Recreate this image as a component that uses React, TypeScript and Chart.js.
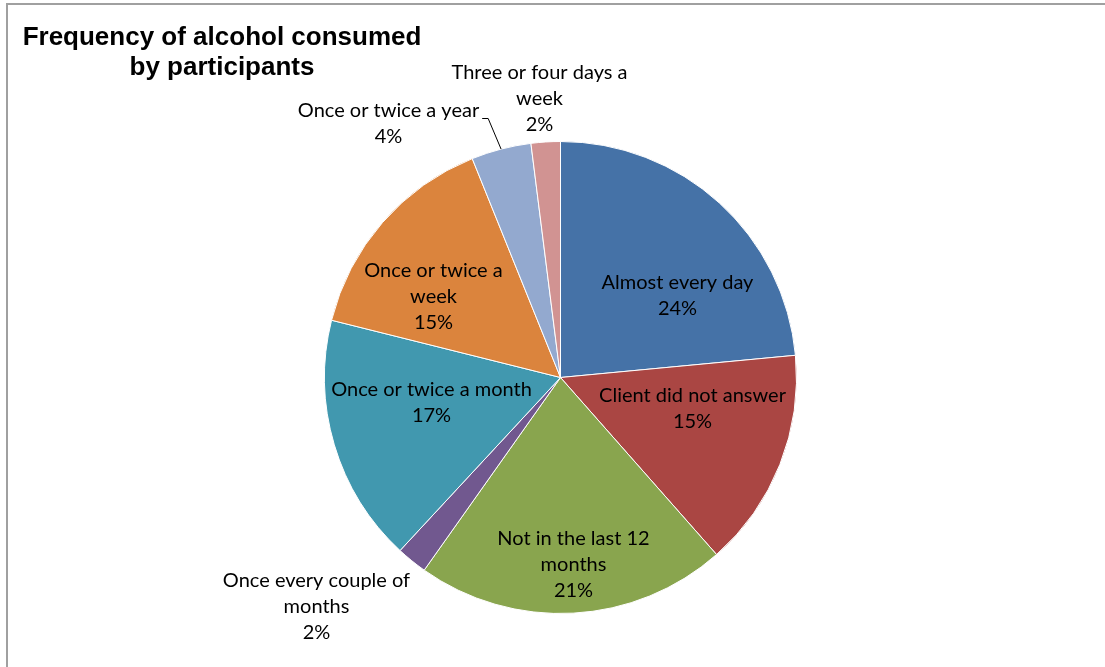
import React, { useEffect, useRef } from "react";
import { Chart, registerables } from "chart.js";

Chart.register(...registerables);

const titleLines = ["Frequency of alcohol consumed", "by participants"];

const categories = [
  "Almost every day",
  "Client did not answer",
  "Not in the last 12 months",
  "Once every couple of months",
  "Once or twice a month",
  "Once or twice a week",
  "Once or twice a year",
  "Three or four days a week",
];

const shares = [23.5, 15.0, 21.3, 2.1, 17.0, 15.0, 4.1, 2.0];

const sliceColors = [
  "#4572A7",
  "#AA4643",
  "#89A54E",
  "#71588F",
  "#4198AF",
  "#DB843D",
  "#93A9CF",
  "#D19392",
];

const labelLines = [
  ["Almost every day"],
  ["Client did not answer"],
  ["Not in the last 12", "months"],
  ["Once every couple of", "months"],
  ["Once or twice a month"],
  ["Once or twice a", "week"],
  ["Once or twice a year"],
  ["Three or four days a", "week"],
];

// label block centre offsets relative to pie centre (layout, px)
const labelOffsets = [
  [117, -82],
  [132, 31],
  [13, 187],
  [-244, 229],
  [-129, 25],
  [-127, -81],
  [-172, -254],
  [-21, -279],
];

const leaderLine = [false, false, false, false, false, false, true, false];

const LABEL_FONT = "20px Lato, 'Open Sans', sans-serif";
const TITLE_FONT = "bold 26px 'Liberation Sans', Arial, sans-serif";
const LINE_H = 26;

const labelPlugin = {
  id: "sliceLabels",
  beforeDraw(chart: any) {
    const ctx = chart.ctx;
    ctx.save();
    ctx.fillStyle = "#ffffff";
    ctx.fillRect(0, 0, chart.width, chart.height);
    ctx.fillStyle = "#a0a0a0";
    ctx.fillRect(6, 3, chart.width - 6, 2);
    ctx.fillRect(6, 3, 2, chart.height - 3);
    ctx.restore();
  },
  afterDraw(chart: any) {
    const ctx = chart.ctx;
    const meta = chart.getDatasetMeta(0);
    const first = meta.data[0];
    const cx = first.x;
    const cy = first.y;
    ctx.save();
    // title
    ctx.fillStyle = "#000";
    ctx.font = TITLE_FONT;
    ctx.textAlign = "center";
    ctx.textBaseline = "middle";
    titleLines.forEach((t, i) => ctx.fillText(t, 222, 38 + i * 30));

    ctx.font = LABEL_FONT;
    meta.data.forEach((arc: any, i: number) => {
      const lines = [...labelLines[i], Math.round(shares[i]) + "%"];
      const [ox, oy] = labelOffsets[i];
      const bx = cx + ox;
      const by = cy + oy;
      const top = by - ((lines.length - 1) * LINE_H) / 2;
      ctx.fillStyle = "#000";
      lines.forEach((l, k) => ctx.fillText(l, bx, top + k * LINE_H));
      if (leaderLine[i]) {
        const w = ctx.measureText(lines[0]).width;
        const sx = bx + w / 2 + 3;
        const sy = top + 8;
        const mid = (arc.startAngle + arc.endAngle) / 2;
        const ex = arc.x + arc.outerRadius * Math.cos(mid);
        const ey = arc.y + arc.outerRadius * Math.sin(mid);
        ctx.strokeStyle = "#000";
        ctx.lineWidth = 1;
        ctx.beginPath();
        ctx.moveTo(sx, sy);
        ctx.lineTo(sx + 6, sy);
        ctx.lineTo(ex, ey);
        ctx.stroke();
      }
    });
    ctx.restore();
  },
};

export default function App() {
  const canvasRef = useRef<HTMLCanvasElement | null>(null);

  useEffect(() => {
    document.body.style.margin = "0";
    const canvas = canvasRef.current;
    if (!canvas) return;
    const chart = new Chart(canvas, {
      type: "pie",
      data: {
        labels: categories,
        datasets: [
          {
            data: shares,
            backgroundColor: sliceColors,
            borderColor: "#ffffff",
            borderWidth: 1,
          },
        ],
      },
      options: {
        animation: false,
        responsive: false,
        layout: { padding: { left: 324, right: 308, top: 141, bottom: 53 } },
        plugins: {
          legend: { display: false },
          title: { display: false },
          tooltip: { enabled: false },
        },
      },
      plugins: [labelPlugin],
    });
    return () => chart.destroy();
  }, []);

  return (
    <div style={{ position: "absolute", left: 0, top: 0, width: 1105, height: 667 }}>
      <canvas ref={canvasRef} width={1105} height={667} style={{ display: "block" }} />
    </div>
  );
}
